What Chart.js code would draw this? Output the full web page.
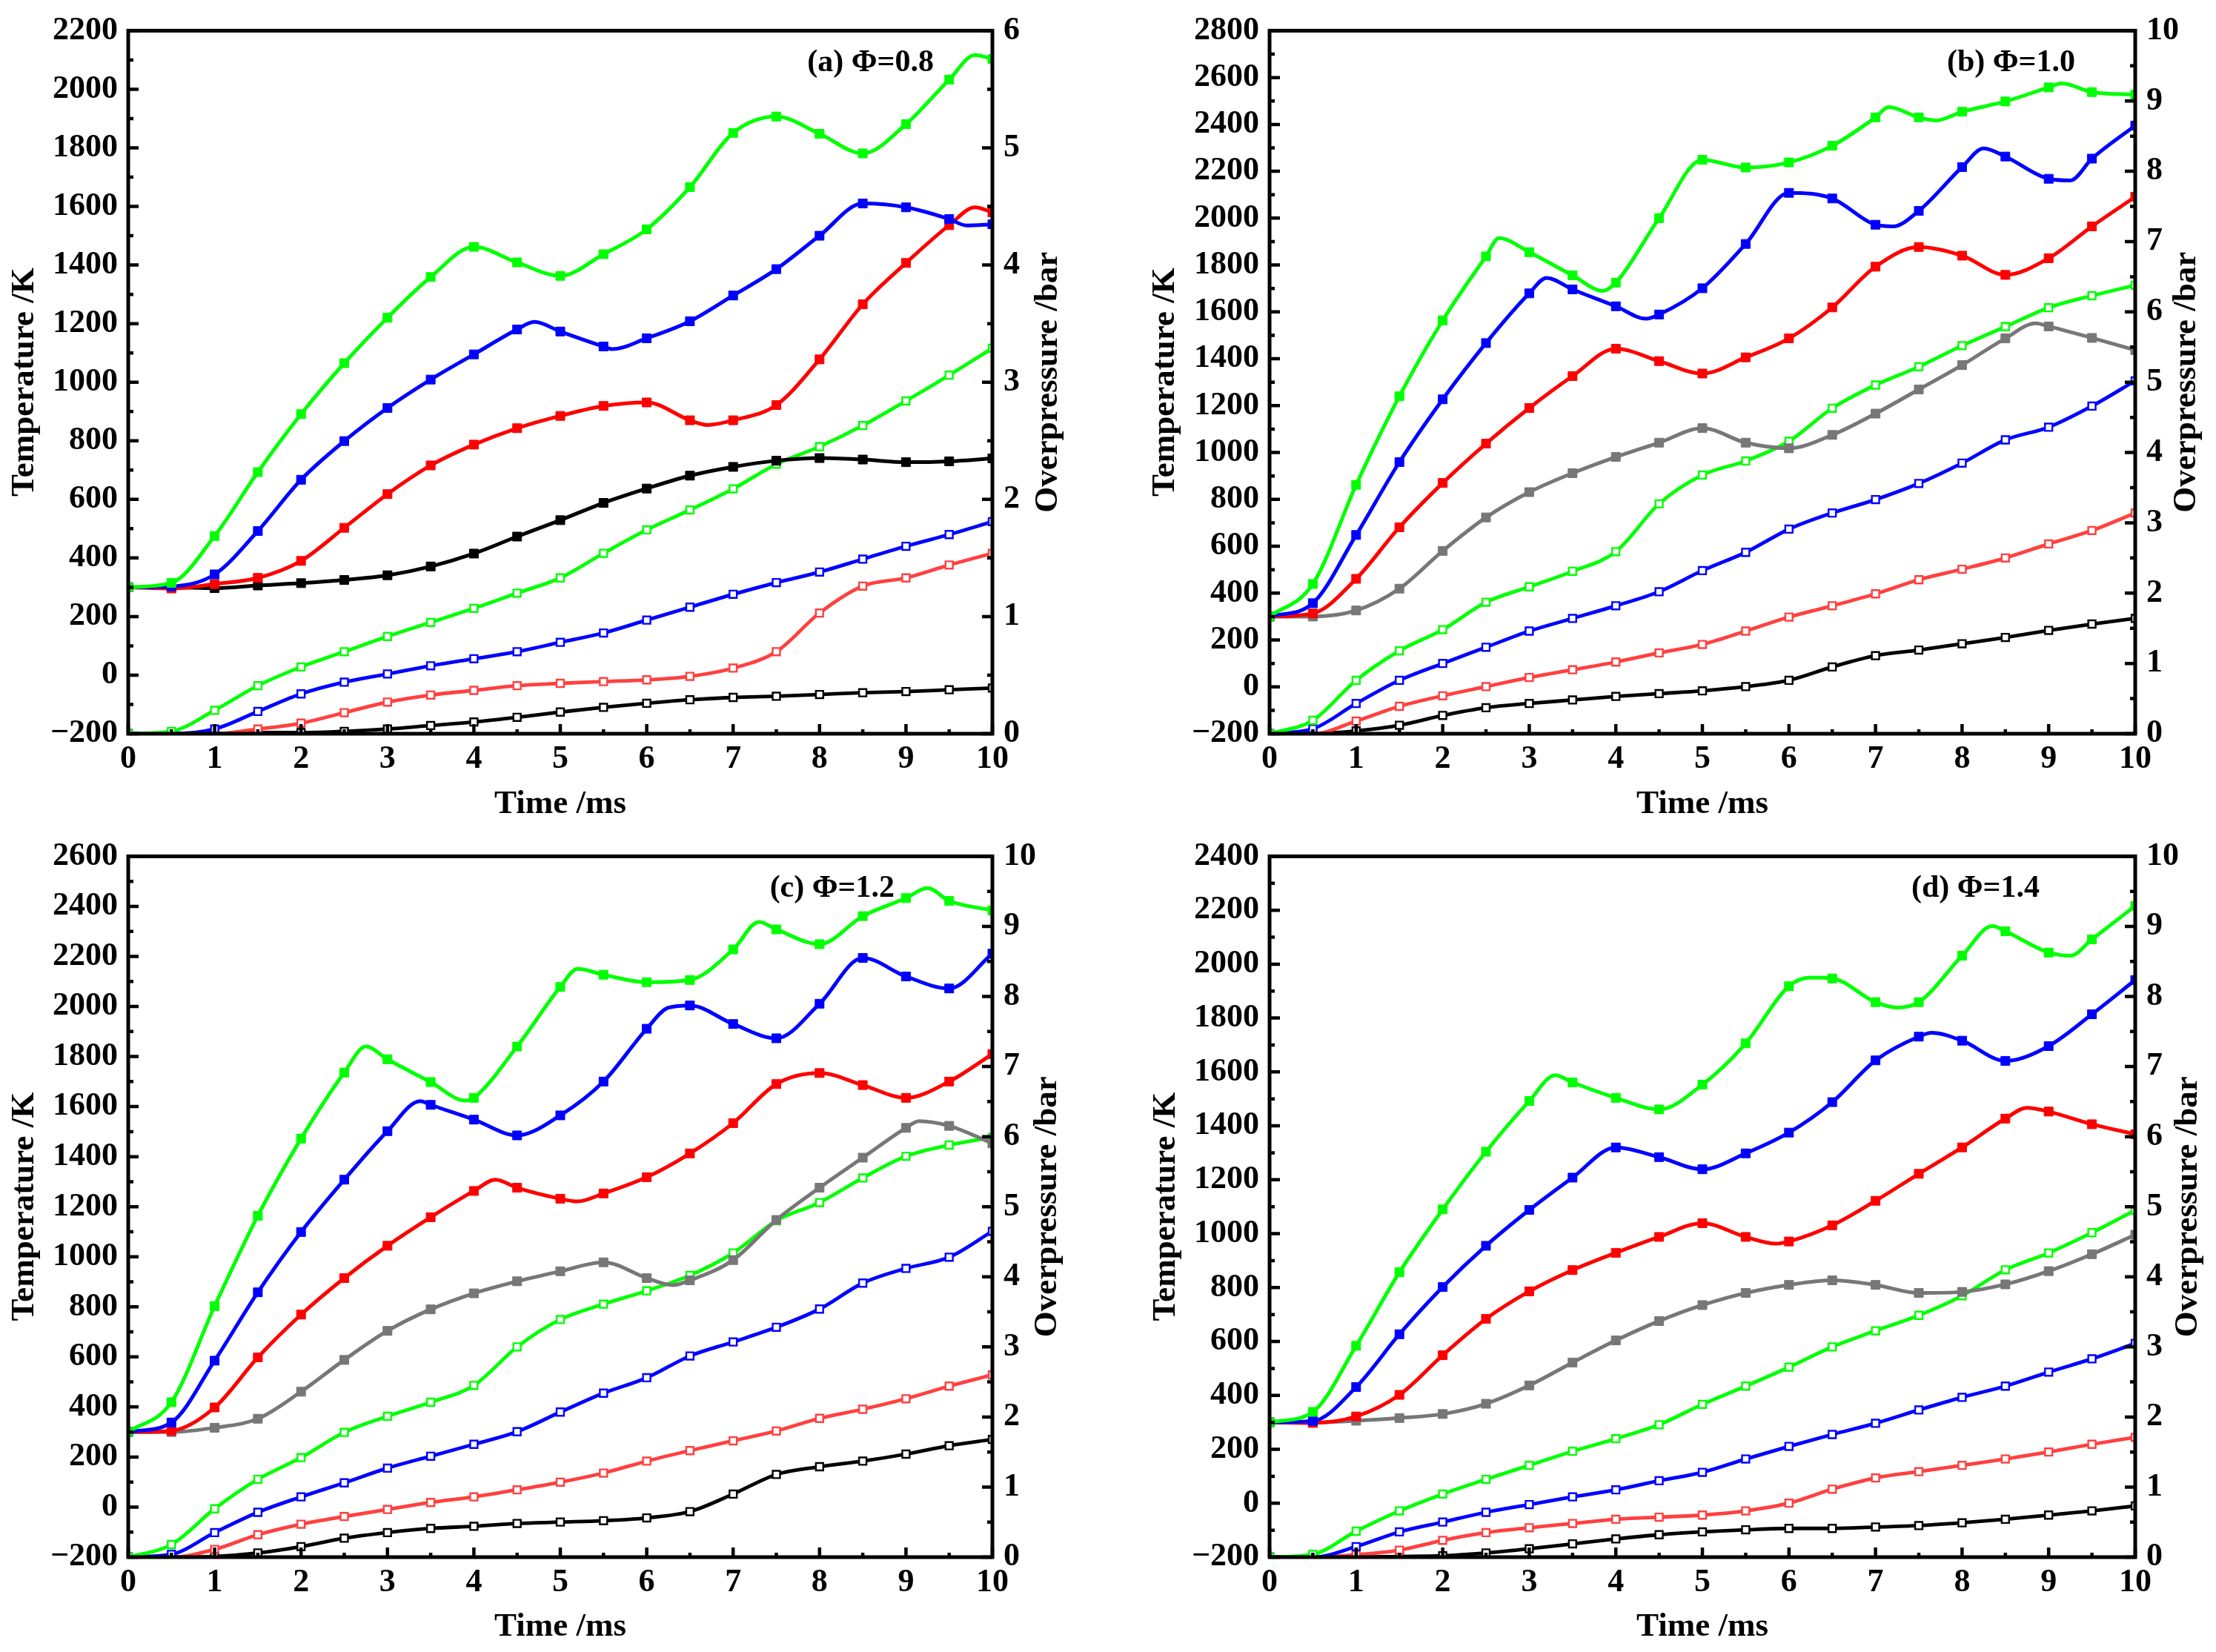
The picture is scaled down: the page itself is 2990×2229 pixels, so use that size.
<!DOCTYPE html>
<html>
<head>
<meta charset="utf-8">
<script src="https://cdn.jsdelivr.net/npm/chart.js@4.4.1/dist/chart.umd.min.js"></script>
<style>
  html, body { margin: 0; padding: 0; background: #fff; }
  #wrap { position: relative; width: 2990px; height: 2229px; }
  canvas { position: absolute; }
</style>
</head>
<body>
<div id="wrap">
  <canvas id="pa" width="1495" height="1114" style="left:0;top:0"></canvas>
  <canvas id="pb" width="1495" height="1114" style="left:1495px;top:0"></canvas>
  <canvas id="pc" width="1495" height="1115" style="left:0;top:1114px"></canvas>
  <canvas id="pd" width="1495" height="1115" style="left:1495px;top:1114px"></canvas>
</div>
<script>
// time axis (ms), marker every 0.5 ms
const time = [0, 0.5, 1, 1.5, 2, 2.5, 3, 3.5, 4, 4.5, 5, 5.5, 6, 6.5, 7, 7.5, 8, 8.5, 9, 9.5, 10];

// (a) phi = 0.8   temperature (K) / overpressure (bar)
const aT_green = [300, 315, 475, 693, 891, 1065, 1220, 1359, 1462, 1409, 1363, 1437, 1522, 1666, 1851, 1907, 1848, 1781, 1881, 2033, 2103];
const aT_blue  = [300, 303, 344, 492, 667, 799, 912, 1009, 1095, 1180, 1173, 1122, 1150, 1208, 1296, 1386, 1500, 1610, 1597, 1557, 1539];
const aT_red   = [300, 296, 311, 332, 390, 503, 618, 716, 787, 843, 885, 919, 931, 870, 870, 922, 1078, 1266, 1407, 1536, 1580];
const aT_black = [300, 300, 297, 306, 314, 325, 341, 371, 415, 473, 529, 588, 637, 681, 711, 732, 741, 736, 727, 730, 740];
const aP_green = [0, 0.02, 0.20, 0.41, 0.57, 0.70, 0.83, 0.95, 1.07, 1.20, 1.33, 1.54, 1.74, 1.91, 2.09, 2.30, 2.45, 2.63, 2.84, 3.06, 3.29];
const aP_blue  = [0, 0, 0.04, 0.19, 0.34, 0.44, 0.51, 0.58, 0.64, 0.70, 0.78, 0.86, 0.97, 1.08, 1.19, 1.29, 1.38, 1.49, 1.60, 1.70, 1.81];
const aP_red   = [0, 0, 0, 0.04, 0.09, 0.18, 0.27, 0.33, 0.37, 0.41, 0.43, 0.445, 0.46, 0.49, 0.56, 0.70, 1.03, 1.26, 1.33, 1.44, 1.54];
const aP_black = [0, 0, 0, 0.01, 0.01, 0.02, 0.04, 0.07, 0.10, 0.14, 0.185, 0.225, 0.26, 0.29, 0.31, 0.32, 0.335, 0.35, 0.36, 0.375, 0.39];
// curve turning points between markers [t, value]
const aK_green = [[9.8, 2117]];
const aK_blue  = [[4.7, 1206], [5.6, 1113], [9.7, 1535]];
const aK_red   = [[6.7, 854], [9.8, 1597]];

// (b) phi = 1.0
const bT_green = [300, 439, 862, 1240, 1564, 1837, 1855, 1756, 1725, 2000, 2249, 2216, 2238, 2309, 2430, 2430, 2454, 2498, 2558, 2538, 2527];
const bT_blue  = [300, 357, 648, 959, 1227, 1467, 1679, 1696, 1624, 1589, 1701, 1890, 2108, 2084, 1972, 2031, 2218, 2263, 2168, 2254, 2395];
const bT_red   = [300, 313, 461, 681, 870, 1038, 1190, 1326, 1443, 1390, 1337, 1406, 1487, 1619, 1793, 1877, 1840, 1758, 1829, 1965, 2091];
const bT_gray  = [300, 300, 326, 419, 580, 723, 831, 912, 981, 1042, 1104, 1042, 1018, 1075, 1166, 1269, 1373, 1487, 1538, 1489, 1437];
const bP_green = [0, 0.19, 0.76, 1.18, 1.48, 1.87, 2.09, 2.31, 2.59, 3.27, 3.68, 3.88, 4.16, 4.63, 4.96, 5.22, 5.52, 5.79, 6.06, 6.23, 6.38];
const bP_blue  = [0, 0.07, 0.43, 0.76, 1.00, 1.23, 1.46, 1.64, 1.82, 2.02, 2.32, 2.58, 2.91, 3.14, 3.33, 3.56, 3.85, 4.18, 4.36, 4.66, 5.02];
const bP_red   = [0, 0, 0.18, 0.39, 0.54, 0.67, 0.80, 0.91, 1.02, 1.15, 1.27, 1.46, 1.66, 1.82, 1.99, 2.19, 2.34, 2.50, 2.70, 2.89, 3.14];
const bP_black = [0, 0, 0.04, 0.12, 0.26, 0.37, 0.43, 0.48, 0.53, 0.57, 0.61, 0.67, 0.76, 0.95, 1.11, 1.19, 1.28, 1.37, 1.47, 1.56, 1.64];
const bK_green = [[2.65, 1915], [3.85, 1690], [7.15, 2474], [7.7, 2417], [9.15, 2575]];
const bK_blue  = [[3.2, 1745], [4.35, 1571], [7.2, 1965], [8.25, 2298], [9.25, 2161]];
const bK_gray  = [[8.85, 1551]];

// (c) phi = 1.2
const cT_green = [300, 419, 803, 1164, 1472, 1736, 1789, 1698, 1635, 1840, 2078, 2127, 2097, 2106, 2228, 2308, 2249, 2361, 2433, 2422, 2384];
const cT_blue  = [300, 338, 585, 858, 1099, 1308, 1502, 1607, 1548, 1485, 1565, 1700, 1911, 2004, 1930, 1873, 2011, 2194, 2120, 2072, 2211];
const cT_red   = [300, 305, 398, 598, 769, 915, 1044, 1158, 1263, 1276, 1232, 1253, 1318, 1413, 1534, 1690, 1734, 1686, 1635, 1700, 1810];
const cT_gray  = [300, 300, 317, 353, 461, 588, 704, 790, 854, 902, 942, 978, 915, 906, 987, 1147, 1276, 1396, 1515, 1523, 1453];
const cP_green = [0, 0.18, 0.69, 1.11, 1.42, 1.78, 2.01, 2.21, 2.45, 3.00, 3.39, 3.61, 3.80, 4.02, 4.34, 4.80, 5.06, 5.41, 5.72, 5.88, 5.99];
const cP_blue  = [0, 0.04, 0.35, 0.64, 0.86, 1.06, 1.27, 1.44, 1.61, 1.79, 2.07, 2.34, 2.56, 2.87, 3.07, 3.28, 3.54, 3.91, 4.12, 4.28, 4.65];
const cP_red   = [0, 0, 0.11, 0.32, 0.47, 0.58, 0.68, 0.78, 0.86, 0.96, 1.07, 1.20, 1.37, 1.52, 1.66, 1.80, 1.98, 2.11, 2.26, 2.44, 2.60];
const cP_black = [0, 0, 0.01, 0.06, 0.15, 0.27, 0.35, 0.41, 0.44, 0.48, 0.50, 0.52, 0.56, 0.65, 0.90, 1.18, 1.29, 1.37, 1.47, 1.59, 1.68];
const cK_green = [[2.75, 1840], [3.9, 1624], [5.2, 2150], [7.3, 2338], [9.25, 2473]];
const cK_blue  = [[3.38, 1622], [6.25, 1995]];
const cK_red   = [[4.25, 1308], [5.2, 1221]];
const cK_gray  = [[6.3, 887], [9.15, 1542]];

// (d) phi = 1.4
const dT_green = [300, 339, 584, 857, 1090, 1304, 1492, 1561, 1504, 1461, 1553, 1706, 1918, 1947, 1859, 1859, 2031, 2122, 2043, 2092, 2216];
const dT_blue  = [300, 305, 431, 627, 802, 955, 1088, 1208, 1320, 1284, 1239, 1298, 1375, 1488, 1643, 1731, 1716, 1641, 1696, 1814, 1941];
const dT_red   = [300, 298, 322, 402, 549, 684, 786, 865, 929, 988, 1039, 988, 971, 1031, 1122, 1222, 1320, 1427, 1453, 1406, 1369];
const dT_gray  = [300, 300, 306, 316, 331, 369, 437, 522, 604, 676, 735, 780, 810, 827, 810, 780, 784, 812, 861, 924, 996];
const dP_green = [0, 0.04, 0.37, 0.66, 0.90, 1.11, 1.31, 1.51, 1.69, 1.89, 2.18, 2.44, 2.71, 3.00, 3.23, 3.45, 3.73, 4.10, 4.34, 4.63, 4.95];
const dP_blue  = [0, 0, 0.15, 0.36, 0.50, 0.64, 0.75, 0.86, 0.96, 1.09, 1.21, 1.40, 1.58, 1.75, 1.91, 2.10, 2.28, 2.44, 2.64, 2.83, 3.05];
const dP_red   = [0, 0, 0.035, 0.10, 0.24, 0.35, 0.42, 0.48, 0.54, 0.57, 0.60, 0.66, 0.77, 0.97, 1.13, 1.22, 1.31, 1.40, 1.50, 1.61, 1.71];
const dP_black = [0, 0, 0, 0.01, 0.02, 0.06, 0.12, 0.19, 0.26, 0.32, 0.36, 0.39, 0.41, 0.41, 0.43, 0.45, 0.49, 0.54, 0.60, 0.66, 0.73];
const dK_green = [[3.3, 1588], [6.25, 1950], [7.25, 1839], [8.35, 2141], [9.25, 2031]];
const dK_blue  = [[7.65, 1745]];
const dK_red   = [[5.85, 963], [8.75, 1467]];

const GREEN = '#00ff00', BLUE = '#0000ff', RED = '#ff0000', LRED = '#ff4040', GRAY = '#777777', BLACK = '#000000';

const tickFont = { family: 'Liberation Serif', size: 44, weight: 'bold' };
const titleFont = { family: 'Liberation Serif', size: 45, weight: 'bold' };

function pts(vals, turns) {
  const p = time.map((t, i) => ({ x: t, y: vals[i], m: true }));
  (turns || []).forEach(k => p.push({ x: k[0], y: k[1], m: false }));
  return p.sort((a, b) => a.x - b.x);
}

function tempSet(vals, turns, color) {
  return {
    data: pts(vals, turns), yAxisID: 'y',
    borderColor: color, backgroundColor: color, borderWidth: 5,
    pointStyle: 'rect', pointBackgroundColor: color, pointBorderColor: color, pointBorderWidth: 1,
    pointRadius: c => (c.raw && c.raw.m ? 8.5 : 0),
    cubicInterpolationMode: 'monotone'
  };
}

function presSet(vals, color) {
  return {
    data: pts(vals), yAxisID: 'y1',
    borderColor: color, backgroundColor: '#fff', borderWidth: 4.8,
    pointStyle: 'rect', pointBackgroundColor: '#fff', pointBorderColor: color, pointBorderWidth: 2.4,
    pointRadius: 7,
    cubicInterpolationMode: 'monotone'
  };
}

// inward ticks, frame, panel label, right title (reads bottom to top)
const panelDeco = {
  id: 'panelDeco',
  afterDraw(chart, args, o) {
    const { ctx, chartArea: a } = chart;
    const sx = chart.scales.x, sy = chart.scales.y, sp = chart.scales.y1;
    ctx.save();
    ctx.strokeStyle = '#000';
    ctx.lineWidth = 4.5;
    ctx.beginPath();
    for (let v = 0; v <= 10; v += 0.5) {
      const px = sx.getPixelForValue(v);
      ctx.moveTo(px, a.bottom);
      ctx.lineTo(px, a.bottom - (v % 1 === 0 ? 13 : 6));
    }
    for (let v = sy.min; v <= sy.max; v += 100) {
      const py = sy.getPixelForValue(v);
      ctx.moveTo(a.left, py);
      ctx.lineTo(a.left + (v % 200 === 0 ? 14 : 7), py);
    }
    for (let v = sp.min; v <= sp.max; v += 0.5) {
      const py = sp.getPixelForValue(v);
      ctx.moveTo(a.right, py);
      ctx.lineTo(a.right - (v % 1 === 0 ? 14 : 7), py);
    }
    ctx.stroke();
    ctx.lineWidth = 5;
    ctx.strokeRect(a.left, a.top, a.right - a.left, a.bottom - a.top);

    ctx.fillStyle = '#000';
    ctx.font = 'bold 42px "Liberation Serif"';
    ctx.textAlign = 'right';
    ctx.textBaseline = 'middle';
    ctx.fillText(o.label, a.right - o.dx, a.top + 44);

    ctx.font = 'bold 45px "Liberation Serif"';
    ctx.textAlign = 'center';
    ctx.translate(o.ptx, (a.top + a.bottom) / 2);
    ctx.rotate(-Math.PI / 2);
    ctx.fillText('Overpressure /bar', 0, 0);
    ctx.restore();
  }
};

function panel(id, p) {
  return new Chart(document.getElementById(id), {
    type: 'line',
    data: { datasets: p.sets },
    options: {
      responsive: false,
      animation: false,
      layout: { padding: { top: p.top, left: 0, right: 0, bottom: 0 } },
      plugins: {
        legend: { display: false },
        tooltip: { enabled: false },
        panelDeco: { label: p.label, dx: p.dx, ptx: p.ptx }
      },
      scales: {
        x: {
          type: 'linear', min: 0, max: 10,
          grid: { display: false, drawTicks: false },
          border: { display: false },
          ticks: { stepSize: 1, padding: 8, autoSkip: false, maxRotation: 0, color: '#000', font: tickFont },
          title: { display: true, text: 'Time /ms', color: '#000', font: titleFont, padding: { top: 0, bottom: p.xtp } },
          afterFit: s => { s.height = p.xh; }
        },
        y: {
          position: 'left', min: -200, max: p.tmax,
          grid: { display: false, drawTicks: false },
          border: { display: false },
          ticks: {
            stepSize: 200, padding: 14, autoSkip: false, color: '#000', font: tickFont,
            callback: v => (v < 0 ? '\u2212' + Math.abs(v) : String(v))
          },
          title: { display: true, text: 'Temperature /K', color: '#000', font: titleFont, padding: { top: p.ytp, bottom: 0 } },
          afterFit: s => { s.width = p.yw; }
        },
        y1: {
          position: 'right', min: 0, max: p.pmax,
          grid: { display: false, drawTicks: false },
          border: { display: false },
          ticks: { stepSize: 1, padding: 15, autoSkip: false, color: '#000', font: tickFont },
          afterFit: s => { s.width = p.y1w; }
        }
      }
    },
    plugins: [panelDeco]
  });
}

panel('pa', {
  label: '(a) \u03A6=0.8', dx: 79, ptx: 1414, top: 33, xh: 124, xtp: 2, yw: 173, ytp: 6, y1w: 156,
  tmax: 2200, pmax: 6,
  sets: [
    tempSet(aT_green, aK_green, GREEN), tempSet(aT_blue, aK_blue, BLUE),
    tempSet(aT_red, aK_red, RED), tempSet(aT_black, null, BLACK),
    presSet(aP_green, GREEN), presSet(aP_blue, BLUE), presSet(aP_red, LRED), presSet(aP_black, BLACK)
  ]
});

panel('pb', {
  label: '(b) \u03A6=1.0', dx: 81, ptx: 1455, top: 34, xh: 124, xtp: 2, yw: 218, ytp: 50, y1w: 109,
  tmax: 2800, pmax: 10,
  sets: [
    tempSet(bT_green, bK_green, GREEN), tempSet(bT_blue, bK_blue, BLUE),
    tempSet(bT_red, null, RED), tempSet(bT_gray, bK_gray, GRAY),
    presSet(bP_green, GREEN), presSet(bP_blue, BLUE), presSet(bP_red, LRED), presSet(bP_black, BLACK)
  ]
});

panel('pc', {
  label: '(c) \u03A6=1.2', dx: 132, ptx: 1413, top: 32, xh: 128, xtp: 7, yw: 173, ytp: 6, y1w: 156,
  tmax: 2600, pmax: 10,
  sets: [
    tempSet(cT_green, cK_green, GREEN), tempSet(cT_blue, cK_blue, BLUE),
    tempSet(cT_red, cK_red, RED), tempSet(cT_gray, cK_gray, GRAY),
    presSet(cP_green, GREEN), presSet(cP_blue, BLUE), presSet(cP_red, LRED), presSet(cP_black, BLACK)
  ]
});

panel('pd', {
  label: '(d) \u03A6=1.4', dx: 129, ptx: 1457, top: 32, xh: 128, xtp: 7, yw: 218, ytp: 51, y1w: 109,
  tmax: 2400, pmax: 10,
  sets: [
    tempSet(dT_green, dK_green, GREEN), tempSet(dT_blue, dK_blue, BLUE),
    tempSet(dT_red, dK_red, RED), tempSet(dT_gray, null, GRAY),
    presSet(dP_green, GREEN), presSet(dP_blue, BLUE), presSet(dP_red, LRED), presSet(dP_black, BLACK)
  ]
});
</script>
</body>
</html>
